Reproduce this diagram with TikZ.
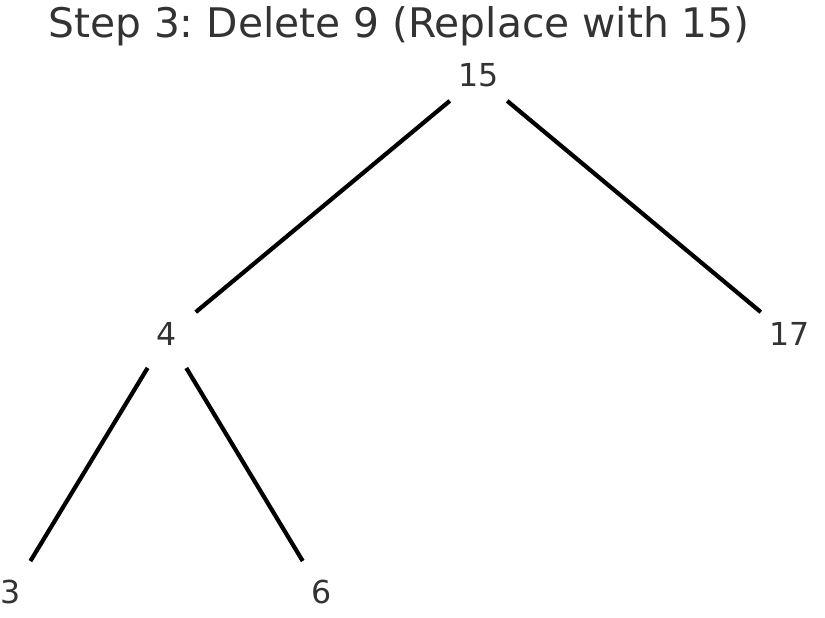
\documentclass[tikz,border=0pt]{standalone}
\usepackage{fontspec}
\setmainfont{DejaVu Sans}
\frenchspacing
\definecolor{textgray}{HTML}{333333}
\tikzset{
  keynode/.style={circle, minimum size=74*0.02cm, inner sep=0pt, text=textgray,
    text depth=0.19em, font=\fontsize{18}{21}\selectfont},
  treeedge/.style={line width=2.4pt, black}
}
\begin{document}
\begin{tikzpicture}[x=0.02cm, y=-0.02cm]
  \useasboundingbox (0,0) rectangle (825,618);
  \node[anchor=base, text=textgray, font=\fontsize{23.2}{28}\selectfont] (title) at (399,38)
    {Step 3: Delete 9 (Replace with 15)};

  \node[keynode] (k15) at (478.5,77) {15};
  \node[keynode] (k4) at (167,336) {4};
  \node[keynode] (k17) at (789.5,336) {17};
  \node[keynode] (k3) at (11,593) {3};
  \node[keynode] (k6) at (322,593) {6};

  \foreach \a/\b in {k15/k4, k15/k17, k4/k3, k4/k6}
    \draw[treeedge] (\a) -- (\b);
\end{tikzpicture}
\end{document}
